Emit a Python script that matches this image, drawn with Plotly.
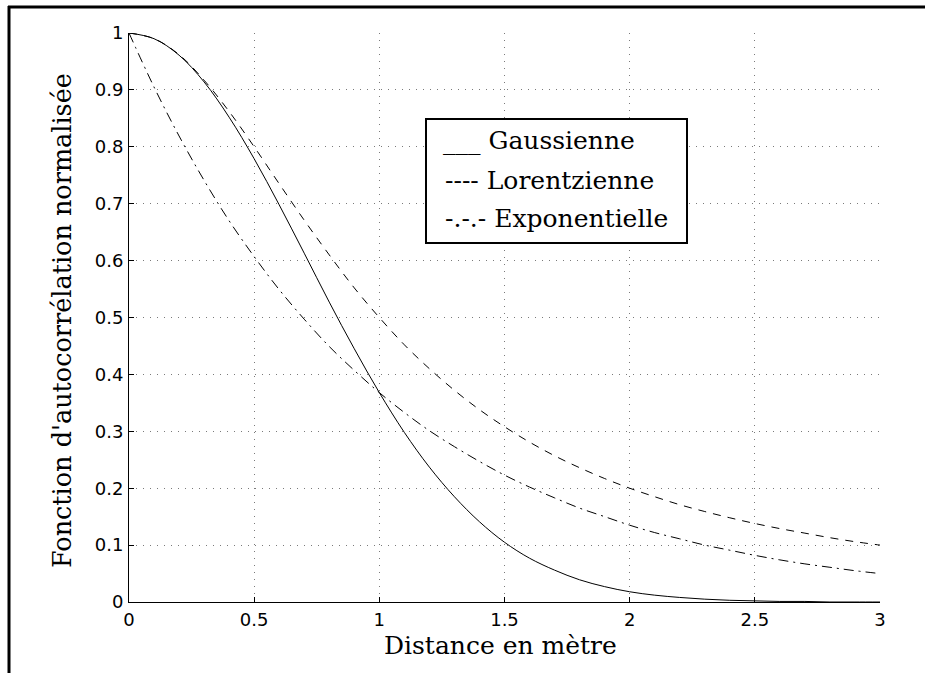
import plotly.graph_objects as go

# Distance (m)
distance = [0.0, 0.1, 0.2, 0.3, 0.4, 0.5, 0.6, 0.7, 0.8, 0.9, 1.0,
            1.1, 1.2, 1.3, 1.4, 1.5, 1.6, 1.7, 1.8, 1.9, 2.0,
            2.1, 2.2, 2.3, 2.4, 2.5, 2.6, 2.7, 2.8, 2.9, 3.0]

gaussienne = [1.000, 0.990, 0.961, 0.914, 0.852, 0.779, 0.698, 0.613, 0.527, 0.445, 0.368,
              0.298, 0.237, 0.185, 0.141, 0.105, 0.077, 0.056, 0.039, 0.027, 0.018,
              0.012, 0.008, 0.005, 0.003, 0.002, 0.001, 0.001, 0.000, 0.000, 0.000]

lorentzienne = [1.000, 0.990, 0.962, 0.917, 0.862, 0.800, 0.735, 0.671, 0.610, 0.552, 0.500,
                0.452, 0.410, 0.372, 0.338, 0.308, 0.281, 0.257, 0.236, 0.217, 0.200,
                0.185, 0.171, 0.159, 0.148, 0.138, 0.129, 0.121, 0.113, 0.106, 0.100]

exponentielle = [1.000, 0.905, 0.819, 0.741, 0.670, 0.607, 0.549, 0.497, 0.449, 0.407, 0.368,
                 0.333, 0.301, 0.273, 0.247, 0.223, 0.202, 0.183, 0.165, 0.150, 0.135,
                 0.122, 0.111, 0.100, 0.091, 0.082, 0.074, 0.067, 0.061, 0.055, 0.050]

x_ticks = [0, 0.5, 1, 1.5, 2, 2.5, 3]
x_tick_labels = ["0", "0.5", "1", "1.5", "2", "2.5", "3"]
y_ticks = [0, 0.1, 0.2, 0.3, 0.4, 0.5, 0.6, 0.7, 0.8, 0.9, 1]
y_tick_labels = ["0", "0.1", "0.2", "0.3", "0.4", "0.5", "0.6", "0.7", "0.8", "0.9", "1"]

legend_labels = ["___ Gaussienne", "---- Lorentzienne", "-.-.- Exponentielle"]

serif = "DejaVu Serif"
sans = "DejaVu Sans"

fig = go.Figure()
fig.add_trace(go.Scatter(x=distance, y=gaussienne, mode="lines", line_shape="spline",
                         line=dict(color="black", width=1), name="Gaussienne"))
fig.add_trace(go.Scatter(x=distance, y=lorentzienne, mode="lines", line_shape="spline",
                         line=dict(color="black", width=1, dash="8px,7px"), name="Lorentzienne"))
fig.add_trace(go.Scatter(x=distance, y=exponentielle, mode="lines", line_shape="spline",
                         line=dict(color="black", width=1, dash="10px,5px,2px,5px"),
                         name="Exponentielle"))

axis_common = dict(
    showline=True, linecolor="black", linewidth=1,
    ticks="inside", ticklen=5, tickcolor="black", tickwidth=1,
    showgrid=True, gridcolor="#7a7a7a", gridwidth=1, griddash="1px,6px",
    zeroline=False,
    tickfont=dict(family=sans, size=18, color="black"),
)

fig.update_xaxes(range=[0, 3], tickvals=x_ticks, ticktext=x_tick_labels,
                 ticklabelstandoff=1, **axis_common)
fig.update_yaxes(range=[0, 1], tickvals=y_ticks, ticktext=y_tick_labels,
                 ticklabelstandoff=1, **axis_common)

ml, mr, mt, mb = 129, 45, 33, 71
W, H = 925, 673
pw, ph = W - ml - mr, H - mt - mb


def px_to_paper_x(px):
    return (px - ml) / pw


def px_to_paper_y(py):
    return (H - mb - py) / ph


shapes = [
    # outer frame (top and left edges)
    dict(type="line", xref="paper", yref="paper",
         x0=px_to_paper_x(8), x1=px_to_paper_x(930),
         y0=px_to_paper_y(7), y1=px_to_paper_y(7),
         line=dict(color="black", width=3)),
    dict(type="line", xref="paper", yref="paper",
         x0=px_to_paper_x(9), x1=px_to_paper_x(9),
         y0=px_to_paper_y(6), y1=px_to_paper_y(680),
         line=dict(color="black", width=3)),
    # legend box
    dict(type="rect", xref="paper", yref="paper",
         x0=px_to_paper_x(426), x1=px_to_paper_x(687),
         y0=px_to_paper_y(243), y1=px_to_paper_y(119),
         line=dict(color="black", width=2), fillcolor="white", layer="above"),
]

annotations = []
legend_rows_y = [140, 180, 219]
legend_rows_x = [441, 443, 443]
for lab, yy, xx in zip(legend_labels, legend_rows_y, legend_rows_x):
    annotations.append(dict(
        text=lab, xref="paper", yref="paper",
        x=px_to_paper_x(xx), y=px_to_paper_y(yy),
        xanchor="left", yanchor="middle", showarrow=False,
        font=dict(family=serif, size=25, color="black")))

annotations.append(dict(
    text="Distance en mètre", xref="paper", yref="paper",
    x=px_to_paper_x(500), y=px_to_paper_y(646),
    xanchor="center", yanchor="middle", showarrow=False,
    font=dict(family=serif, size=25, color="black")))
annotations.append(dict(
    text="Fonction d'autocorrélation normalisée", xref="paper", yref="paper",
    x=px_to_paper_x(62), y=px_to_paper_y(321), textangle=-90,
    xanchor="center", yanchor="middle", showarrow=False,
    font=dict(family=serif, size=25.5, color="black")))

fig.update_layout(
    width=W, height=H,
    margin=dict(l=ml, r=mr, t=mt, b=mb),
    paper_bgcolor="white", plot_bgcolor="white",
    showlegend=False,
    shapes=shapes, annotations=annotations,
)

fig.write_html("out.html")
